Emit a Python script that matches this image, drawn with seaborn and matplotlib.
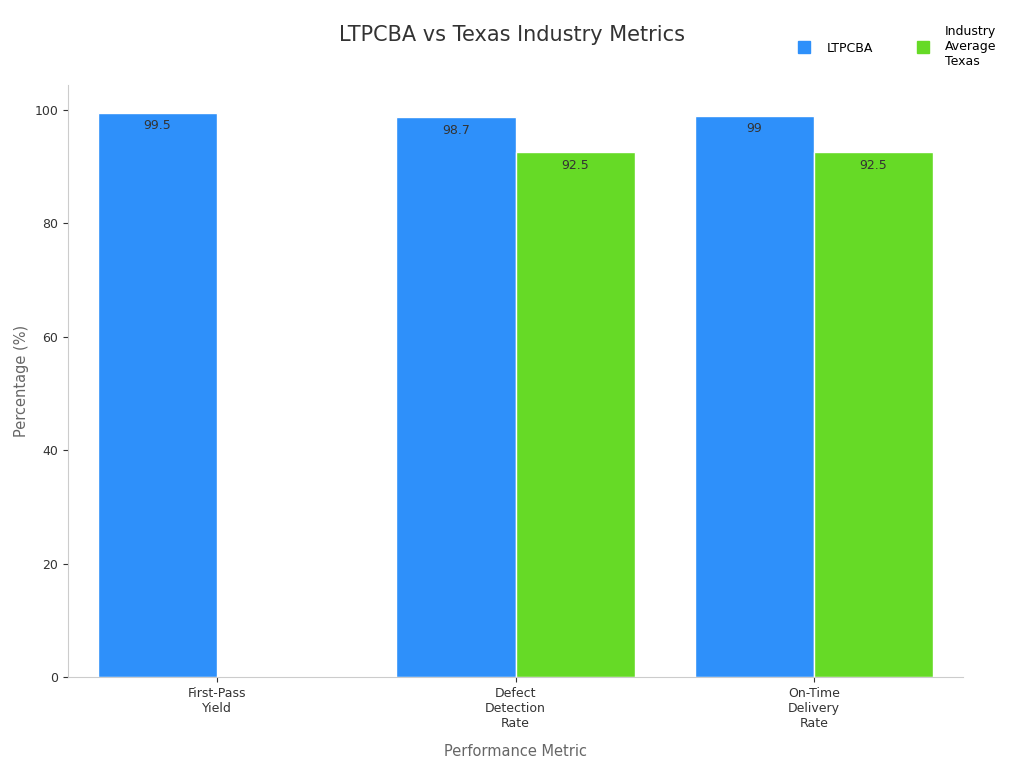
import matplotlib
matplotlib.use("Agg")
import matplotlib.pyplot as plt
import seaborn as sns
import pandas as pd
import numpy as np

categories = ["First-Pass\nYield", "Defect\nDetection\nRate", "On-Time\nDelivery\nRate"]
ltpcba = [99.5, 98.7, 99]
industry = [np.nan, 92.5, 92.5]
series_names = ["LTPCBA", "Industry\nAverage\nTexas"]
colors = ["#2E90FA", "#66DA26"]

df = pd.DataFrame({
    "Metric": categories * 2,
    "Value": ltpcba + industry,
    "Series": [series_names[0]] * 3 + [series_names[1]] * 3,
})

fig = plt.figure(figsize=(10.24, 7.68), dpi=100)
ax = fig.add_axes([68/1024, 1-677/768, (963-68)/1024, (677-85)/768])
sns.barplot(data=df, x="Metric", y="Value", hue="Series", palette=colors,
            edgecolor="white", linewidth=1, ax=ax, saturation=1, width=0.8)
ax.set_ylim(0, 104.4)
ax.set_xlim(-0.5, 2.5)
for cont in ax.containers:
    labels = ["" if np.isnan(v) else f"{v:g}" for v in cont.datavalues]
    ax.bar_label(cont, labels=labels, padding=-14, fontsize=9, color="#333333")
ax.legend_.remove()
handles = [plt.Line2D([], [], marker="s", linestyle="", color=c, markersize=8) for c in colors]
fig.legend(handles, series_names, loc="upper left", bbox_to_anchor=(780/1024, 1-14/768),
           ncol=2, frameon=False, fontsize=9, handletextpad=0.8, columnspacing=3)
fig.suptitle("LTPCBA vs Texas Industry Metrics", x=512/1024, y=1-35/768, va="center",
             fontsize=15, color="#333333")
ax.set_xlabel("Performance Metric", fontsize=10.5, color="#666666", labelpad=10)
ax.set_ylabel("Percentage (%)", fontsize=10.5, color="#666666")
ax.tick_params(labelsize=9, colors="#333333")
for s in ["top", "right"]:
    ax.spines[s].set_visible(False)
for s in ["left", "bottom"]:
    ax.spines[s].set_color("#cccccc")
fig.savefig("out.png", dpi=100)
